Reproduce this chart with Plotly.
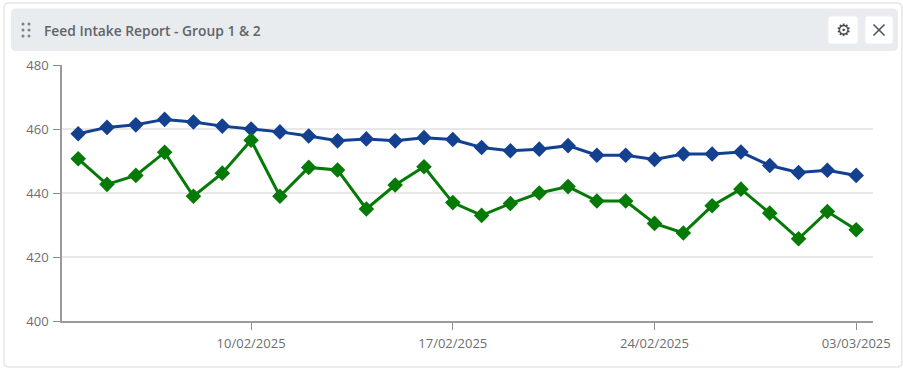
import plotly.graph_objects as go
import pandas as pd

W, H = 903, 377
TITLE = "Feed Intake Report - Group 1 & 2"
dates = pd.date_range("2025-02-04", "2025-03-03", freq="D")
group_1 = [458.5, 460.5, 461.3, 463.0, 462.2, 460.9, 460.0, 459.1, 457.8, 456.3,
           456.9, 456.3, 457.3, 456.7, 454.2, 453.2, 453.7, 454.8, 451.8, 451.8,
           450.5, 452.2, 452.2, 452.8, 448.6, 446.4, 447.1, 445.5]
group_2 = [450.7, 442.7, 445.5, 452.7, 439.0, 446.2, 456.5, 439.0, 448.0, 447.2,
           435.0, 442.5, 448.2, 437.0, 433.0, 436.7, 440.0, 442.0, 437.5, 437.5,
           430.5, 427.5, 436.0, 441.2, 433.7, 425.7, 434.2, 428.5]
x_ticks = ["2025-02-10", "2025-02-17", "2025-02-24", "2025-03-03"]
y_ticks = [400, 420, 440, 460, 480]
x_range = ["2025-02-03 10:30", "2025-03-03 14:00"]
y_range = [400, 480]

FONT = "Open Sans, Noto Sans, sans-serif"
GREY = "#6b6f73"


def px(x):
    return x / W


def py(y):
    return 1 - y / H


def rrect(x0, y0, x1, y1, r, fill, line=None, lw=1):
    X0, X1 = px(x0), px(x1)
    Y0, Y1 = py(y0), py(y1)
    rx, ry = r / W, r / H
    path = (f"M {X0+rx} {Y0} L {X1-rx} {Y0} Q {X1} {Y0} {X1} {Y0-ry} "
            f"L {X1} {Y1+ry} Q {X1} {Y1} {X1-rx} {Y1} L {X0+rx} {Y1} "
            f"Q {X0} {Y1} {X0} {Y1+ry} L {X0} {Y0-ry} Q {X0} {Y0} {X0+rx} {Y0} Z")
    return dict(type="path", path=path, xref="paper", yref="paper", fillcolor=fill,
                line=dict(color=line or fill, width=lw if line else 0), layer="below")


def dot(cx, cy, r=1.5, color="#7d8084"):
    return dict(type="circle", xref="paper", yref="paper", x0=px(cx - r), x1=px(cx + r),
                y0=py(cy + r), y1=py(cy - r), fillcolor=color, line=dict(width=0), layer="below")


def seg(x0, y0, x1, y1, color="#4a5560", width=1.6):
    return dict(type="line", xref="paper", yref="paper", x0=px(x0), x1=px(x1),
                y0=py(y0), y1=py(y1), line=dict(color=color, width=width))


shapes = [
    rrect(4, 3, 902, 367, 5, "#ffffff", "#e6e6e6", 1.5),
    rrect(11, 8.5, 898, 51, 5, "#e9ecef"),
    rrect(828, 16, 858, 44, 3, "#ffffff", "#eef0f2", 1),
    rrect(865, 16, 893, 44, 3, "#ffffff", "#eef0f2", 1),
    seg(873.5, 24.5, 884.5, 35.5),
    seg(873.5, 35.5, 884.5, 24.5),
]
shapes += [dot(cx, cy) for cx in (23, 29) for cy in (24, 30, 36)]

fig = go.Figure()
for values, color in ((group_1, "#13408f"), (group_2, "#067a06")):
    fig.add_trace(go.Scatter(
        x=dates, y=values, mode="lines+markers",
        line=dict(color=color, width=3),
        marker=dict(symbol="diamond", size=12, color=color, line=dict(width=0)),
        cliponaxis=False, showlegend=False,
    ))

fig.update_layout(
    width=W, height=H, autosize=False,
    margin=dict(l=0, r=0, t=0, b=0, pad=0, autoexpand=False),
    paper_bgcolor="#ffffff", plot_bgcolor="rgba(0,0,0,0)",
    font=dict(family=FONT, size=13, color=GREY),
    showlegend=False, shapes=shapes,
    annotations=[
        dict(text=TITLE, x=px(41.5), y=py(30.5), xref="paper", yref="paper", xanchor="left",
             yanchor="middle", showarrow=False,
             font=dict(family=FONT, size=13.8, color="#5f6468", weight=600)),
        dict(text="⚙", x=px(843), y=py(30), xref="paper", yref="paper", xanchor="center",
             yanchor="middle", showarrow=False,
             font=dict(family="DejaVu Sans", size=17, color="#40464d")),
    ],
    xaxis=dict(
        domain=[px(62), px(873)], range=x_range, type="date", automargin=False,
        tickmode="array", tickvals=x_ticks, tickformat="%d/%m/%Y",
        ticks="outside", ticklen=7, tickwidth=1, tickcolor="#8c8c8c",
        ticklabelstandoff=3,
        showgrid=False, zeroline=False, showline=True, linecolor="#9a9a9a", linewidth=1.5,
        tickfont=dict(family=FONT, size=13, color=GREY), anchor="y", fixedrange=True,
    ),
    yaxis=dict(
        domain=[py(321), py(65)], range=y_range, automargin=False,
        tickmode="array", tickvals=y_ticks,
        ticks="outside", ticklen=7, tickwidth=1, tickcolor="#8c8c8c",
        ticklabelstandoff=2,
        showgrid=True, gridcolor="#e8e8e8", gridwidth=1.5,
        zeroline=False, showline=True, linecolor="#9a9a9a", linewidth=1.5,
        tickfont=dict(family=FONT, size=13, color=GREY), anchor="x", fixedrange=True,
    ),
)
fig.write_html("out.html", config={"displayModeBar": False},
               post_script="document.body.style.margin='0';document.documentElement.style.overflow='hidden';")
